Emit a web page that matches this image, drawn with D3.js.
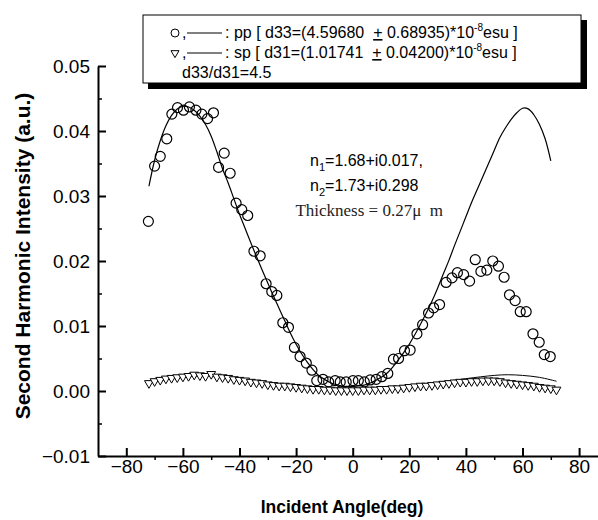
<!DOCTYPE html>
<html><head><meta charset="utf-8">
<script src="https://cdn.jsdelivr.net/npm/d3@7"></script>
<style>body{margin:0;background:#fff} svg{display:block;font-family:Arial,"Liberation Sans",sans-serif}</style>
</head><body><svg id="c" width="598" height="520"></svg>
<script>
// pp data (circles)
const ppAngles = [-72.2,-70.0,-68.0,-65.7,-63.9,-61.9,-59.8,-57.7,-55.4,-53.3,-51.3,-49.2,-47.4,-45.4,-43.3,-41.2,-39.2,-37.1,-34.9,-32.7,
  -30.6,-28.6,-26.8,-24.7,-22.7,-20.6,-18.6,-16.4,-14.4,-12.7,-10.5,-8.5,-6.2,-4.4,-2.3,0.1,2.0,4.1,6.2,8.3,10.3,12.4,14.4,16.2,18.3,20.3,22.7,24.7,26.8,28.6,
  30.7,33.0,35.1,37.0,39.2,41.3,43.3,45.3,47.4,49.5,51.5,53.5,55.4,57.4,59.2,61.3,63.7,65.9,67.7,69.8];
const ppValues = [0.0261,0.0346,0.0361,0.0388,0.0426,0.0436,0.0432,0.0437,0.0432,0.0426,0.0419,0.0428,0.0344,0.0366,0.0335,0.0289,0.0279,0.0270,0.0215,0.0208,
  0.0165,0.0153,0.0147,0.0105,0.0098,0.0067,0.0053,0.0043,0.0032,0.0016,0.0018,0.0014,0.0016,0.0014,0.0014,0.0016,0.0016,0.0014,0.0017,0.0018,0.0022,0.0027,0.0049,0.0050,0.0062,0.0063,0.0088,0.0102,0.0120,0.0128,
  0.0133,0.0167,0.0174,0.0182,0.0179,0.0169,0.0202,0.0184,0.0186,0.0200,0.0192,0.0175,0.0148,0.0139,0.0122,0.0122,0.0088,0.0075,0.0056,0.0053];
// sp data (triangles)
const spAngles = [-72,-70,-68,-66,-64,-62,-60,-58,-56,-54,-52,-50,-48,-46,-44,-42,-40,-38,-36,-34,-32,-30,-28,-26,-24,-22,-20,-18,-16,-14,-12,-10,-8,-6,-4,-2,
  0,2,4,6,8,10,12,14,16,18,20,22,24,26,28,30,32,34,36,38,40,42,44,46,48,50,52,54,56,58,60,62,64,66,68,70,72];
const spValues = [0.0012,0.0015,0.0017,0.0019,0.0020,0.0021,0.0022,0.0023,0.0025,0.0024,0.0023,0.0026,0.0022,0.0021,0.0020,0.0018,0.0017,0.0016,0.0014,0.0013,0.0012,0.0010,0.0009,0.0008,0.0008,0.0007,0.0006,0.0005,0.0004,0.0003,0.0003,0.0002,0.0002,0.0001,0.0001,0.0001,
  0.0001,0.0001,0.0002,0.0002,0.0002,0.0003,0.0003,0.0004,0.0004,0.0005,0.0006,0.0007,0.0008,0.0008,0.0009,0.0010,0.0011,0.0012,0.0013,0.0014,0.0014,0.0015,0.0015,0.0016,0.0016,0.0016,0.0015,0.0013,0.0012,0.0011,0.0010,0.0009,0.0008,0.0006,0.0005,0.0004,0.0002];
// fitted curves
const ppFitAngles = [-72,-70,-68,-66,-64,-62,-60,-58,-56,-54,-52,-50,-48,-46,-44,-42,-40,-38,-36,-34,-32,-30,-28,-26,-24,-22,-20,-18,-16,-14,-12,-10,-8,-6,-4,-2,
  0,2,4,6,8,10,12,14,16,18,20,22,24,26,28,30,32,34,36,38,40,42,44,46,48,50,52,54,56,58,60,62,64,66,68,70];
const ppFitValues = [0.0315,0.0355,0.0385,0.0408,0.0424,0.0434,0.0438,0.0437,0.0432,0.0423,0.0410,0.0392,0.0368,0.0342,0.0320,0.0296,0.0272,0.0250,0.0228,0.0207,0.0186,0.0166,0.0146,0.0127,0.0108,0.0089,0.0072,0.0057,0.0044,0.0033,0.0024,0.0018,0.0013,0.0010,0.0008,0.0007,
  0.0007,0.0008,0.0009,0.0012,0.0016,0.0021,0.0027,0.0036,0.0047,0.0059,0.0072,0.0087,0.0103,0.0120,0.0138,0.0158,0.0180,0.0201,0.0224,0.0246,0.0268,0.0290,0.0310,0.0330,0.0350,0.0370,0.0390,0.0405,0.0418,0.0428,0.0435,0.0434,0.0425,0.0410,0.0388,0.0354];
const spFitAngles = [-72,-66,-60,-55,-50,-45,-40,-30,-20,-10,0,10,20,30,40,50,55,60,66,72];
const spFitValues = [0.0012,0.0017,0.0021,0.0023,0.0023,0.0021,0.0018,0.0012,0.0007,0.0004,0.0003,0.0004,0.0008,0.0013,0.0019,0.0024,0.0025,0.0024,0.0021,0.0015];

const xMajor = [-80,-60,-40,-20,0,20,40,60,80];
const xMinor = [-70,-50,-30,-10,10,30,50,70];
const yMajor = [-0.01,0,0.01,0.02,0.03,0.04,0.05];
const yMinor = [-0.005,0.005,0.015,0.025,0.035,0.045];

const svg = d3.select("#c");
const x = d3.scaleLinear().domain([-90,90]).range([98,607.4]);
const y = d3.scaleLinear().domain([-0.01,0.05]).range([456,66]);
const FONT = "Arial, 'Liberation Sans', sans-serif";

// axes
const gy = svg.append("g").attr("transform","translate(98,0)")
  .call(d3.axisLeft(y).tickValues(yMajor).tickSize(-8).tickSizeOuter(0).tickPadding(8).tickFormat(d3.format(".2f")));
gy.select(".domain").attr("stroke-width",2);
gy.selectAll(".tick line").attr("stroke-width",2);
gy.selectAll("text").attr("font-size",19).attr("font-family",FONT).attr("fill","#000");
const gym = svg.append("g").attr("transform","translate(98,0)")
  .call(d3.axisLeft(y).tickValues(yMinor).tickSize(-4).tickSizeOuter(0).tickFormat(""));
gym.select(".domain").remove();
gym.selectAll(".tick line").attr("stroke-width",1.5);

const gx = svg.append("g").attr("transform","translate(0,456)")
  .call(d3.axisBottom(x).tickValues(xMajor).tickSize(-8).tickSizeOuter(0).tickPadding(4));
gx.select(".domain").attr("stroke-width",2);
gx.selectAll(".tick line").attr("stroke-width",2);
gx.selectAll("text").attr("font-size",19).attr("font-family",FONT).attr("fill","#000");
const gxm = svg.append("g").attr("transform","translate(0,456)")
  .call(d3.axisBottom(x).tickValues(xMinor).tickSize(4).tickSizeOuter(0).tickFormat(""));
gxm.select(".domain").remove();
gxm.selectAll(".tick line").attr("stroke-width",1.5);

// axis titles
svg.append("text").attr("transform","translate(30,256) rotate(-90)").attr("text-anchor","middle")
  .attr("font-size",21).attr("font-weight","bold").text("Second Harmonic Intensity (a.u.)");
svg.append("text").attr("x",342).attr("y",513).attr("text-anchor","middle")
  .attr("font-size",17.5).attr("font-weight","bold").text("Incident Angle(deg)");

// fit lines
const line = d3.line().x(d=>x(d[0])).y(d=>y(d[1])).curve(d3.curveCatmullRom);
svg.append("path").datum(d3.zip(ppFitAngles,ppFitValues)).attr("d",line).attr("fill","none").attr("stroke","#000").attr("stroke-width",1.2);
svg.append("path").datum(d3.zip(spFitAngles,spFitValues)).attr("d",line).attr("fill","none").attr("stroke","#000").attr("stroke-width",1);

// markers
svg.append("g").selectAll("circle").data(d3.zip(ppAngles,ppValues)).join("circle")
  .attr("cx",d=>x(d[0])).attr("cy",d=>y(d[1])).attr("r",5)
  .attr("fill","none").attr("stroke","#000").attr("stroke-width",1.2);
const tri = d3.symbol().type(d3.symbolTriangle).size(34);
svg.append("g").selectAll("path").data(d3.zip(spAngles,spValues)).join("path")
  .attr("d",tri).attr("transform",d=>`translate(${x(d[0])},${y(d[1])}) rotate(180)`)
  .attr("fill","#fff").attr("stroke","#000").attr("stroke-width",1);

// annotation
const ann = svg.append("g").attr("font-size",16);
const t1 = ann.append("text").attr("x",310).attr("y",166);
t1.append("tspan").text("n");
t1.append("tspan").attr("font-size",11).attr("dy",5).text("1");
t1.append("tspan").attr("dy",-5).text("=1.68+i0.017,");
const t2 = ann.append("text").attr("x",310).attr("y",191);
t2.append("tspan").text("n");
t2.append("tspan").attr("font-size",11).attr("dy",5).text("2");
t2.append("tspan").attr("dy",-5).text("=1.73+i0.298");
ann.append("text").attr("x",443).attr("y",216).attr("text-anchor","end")
  .attr("font-family","'Liberation Serif','DejaVu Serif',serif").attr("font-size",17).attr("fill","#222")
  .text("Thickness = 0.27\u03bc  m").style("white-space","pre");

// legend
const lg = svg.append("g");
lg.append("rect").attr("x",148).attr("y",20).attr("width",439).attr("height",69).attr("fill","#000");
lg.append("rect").attr("x",143).attr("y",15).attr("width",438).attr("height",68).attr("fill","#fff").attr("stroke","#000").attr("stroke-width",1);
lg.append("circle").attr("cx",175).attr("cy",33).attr("r",4).attr("fill","none").attr("stroke","#000");
lg.append("path").attr("d",d3.symbol().type(d3.symbolTriangle).size(28)).attr("transform","translate(175,53) rotate(180)")
  .attr("fill","none").attr("stroke","#000");
const rowTexts = [[": pp [ d33=(4.59680  ","0.68935)*10","esu ]"],[": sp [ d31=(1.01741  ","0.04200)*10","esu ]"]];
rowTexts.forEach((r,i)=>{
  const yy = 38 + i*20;
  lg.append("text").attr("x",182).attr("y",yy).attr("font-size",16).text(",");
  lg.append("line").attr("x1",187).attr("x2",222).attr("y1",yy-5).attr("y2",yy-5).attr("stroke","#000").attr("stroke-width",1);
  const t = lg.append("text").attr("x",225).attr("y",yy).attr("font-size",16).style("white-space","pre");
  t.append("tspan").text(r[0]);
  t.append("tspan").attr("text-decoration","underline").text("+");
  t.append("tspan").text(" "+r[1]);
  t.append("tspan").attr("font-size",10).attr("dy",-7).text("-8");
  t.append("tspan").attr("dy",7).text(r[2]);
});
lg.append("text").attr("x",182).attr("y",78).attr("font-size",16).text("d33/d31=4.5");
</script></body></html>
